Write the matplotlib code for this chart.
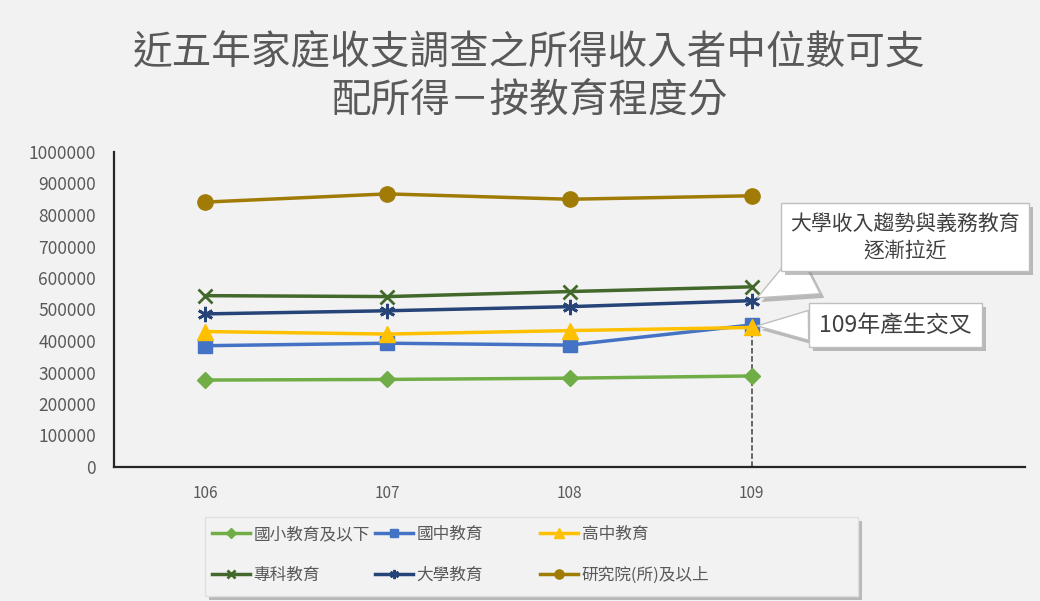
import matplotlib
matplotlib.use("Agg")
import matplotlib.pyplot as plt
import matplotlib.patheffects as pe
from matplotlib.patches import Rectangle

plt.rcParams['font.family'] = ['Noto Sans CJK TC', 'DejaVu Sans']

years = [106, 107, 108, 109]
elementary = [276000, 278000, 282000, 289000]
junior_high = [385000, 393000, 387000, 451000]
senior_high = [430000, 422000, 433000, 443000]
college = [544000, 541000, 557000, 572000]
university = [486000, 496000, 509000, 528000]
graduate = [841000, 867000, 850000, 861000]

series = [
    ("國小教育及以下", elementary, "#70ad47", "D", 8, 1),
    ("國中教育", junior_high, "#4472c4", "s", 10, 1),
    ("高中教育", senior_high, "#ffc000", "^", 11, 1),
    ("專科教育", college, "#43682b", "x", 10, 2),
    ("大學教育", university, "#264478", (6, 2, 0), 11, 2),
    ("研究院(所)及以上", graduate, "#a07c06", "o", 11, 1),
]

title = "近五年家庭收支調查之所得收入者中位數可支\n配所得－按教育程度分"
note_trend = "大學收入趨勢與義務教育\n逐漸拉近"
note_cross = "109年產生交叉"

bg = "#f2f2f2"
gray = "#595959"

fig = plt.figure(figsize=(10.4, 6.01), dpi=100, facecolor=bg)
ax = fig.add_axes([114 / 1040, 1 - 467 / 601, (1025 - 114) / 1040, (467 - 152) / 601])
ax.set_facecolor(bg)

handles = {}
for name, vals, color, marker, ms, mew in series:
    (h,) = ax.plot(years, vals, color=color, lw=2.5, marker=marker, ms=ms,
                   mew=mew, mec=color, mfc=color, label=name)
    handles[name] = h

ax.vlines(109, 0, 445000, colors="#404040", linestyles="--", lw=1.1, zorder=1)

ax.set_xlim(105.5, 110.5)
ax.set_ylim(0, 1000000)
ax.set_xticks(years)
ax.set_xticklabels([str(y) for y in years], fontsize=11, color=gray)
ax.set_yticks(range(0, 1000001, 100000))
ax.set_yticklabels([str(v) for v in range(0, 1000001, 100000)], fontsize=12.5, color=gray)
ax.tick_params(axis="both", length=0)
ax.tick_params(axis="y", pad=13)
ax.tick_params(axis="x", pad=13)
for s in ["top", "right"]:
    ax.spines[s].set_visible(False)
for s in ["left", "bottom"]:
    ax.spines[s].set_linewidth(1.6)
    ax.spines[s].set_color("#262626")

fig.text(0.509, 1 - 77 / 601, title, ha="center", va="center", fontsize=28.5,
         color=gray, linespacing=1.22)

shadow = [pe.withSimplePatchShadow(offset=(3, -3), shadow_rgbFace="#808080", alpha=0.5)]

ann1 = ax.annotate(note_trend, xy=(109.03, 537000), xytext=(109.84, 730000),
                   ha="center", va="center", fontsize=15, color="#404040",
                   linespacing=1.3,
                   bbox=dict(boxstyle="square,pad=0.45", fc="white", ec="#bfbfbf", lw=1),
                   arrowprops=dict(arrowstyle="wedge,tail_width=2.4", fc="white",
                                   ec="#bfbfbf", lw=1, shrinkA=0, shrinkB=0,
                                   relpos=(0.25, 0.2)))
ann2 = ax.annotate(note_cross, xy=(109.03, 448000), xytext=(109.79, 451000),
                   ha="center", va="center", fontsize=16.5, color="#404040",
                   bbox=dict(boxstyle="square,pad=0.45", fc="white", ec="#bfbfbf", lw=1),
                   arrowprops=dict(arrowstyle="wedge,tail_width=1.3", fc="white",
                                   ec="#bfbfbf", lw=1, shrinkA=0, shrinkB=0,
                                   relpos=(0.2, 0.5)))
for ann in (ann1, ann2):
    ann.get_bbox_patch().set_path_effects(shadow)
    ann.arrow_patch.set_path_effects(shadow)

# legend frame
frame = Rectangle((205 / 1040, 1 - 596 / 601), (858 - 205) / 1040, (596 - 517) / 601,
                  transform=fig.transFigure, fc=bg, ec="#e0e0e0", lw=1, zorder=0)
frame.set_path_effects(shadow)
fig.add_artist(frame)

columns = [
    (212, ["國小教育及以下", "專科教育"]),
    (375, ["國中教育", "大學教育"]),
    (540, ["高中教育", "研究院(所)及以上"]),
]
for x_px, names in columns:
    leg = fig.legend(handles=[handles[n] for n in names], labels=names,
                     loc="upper left", bbox_to_anchor=(x_px / 1040, 1 - 526 / 601),
                     frameon=False, fontsize=12, handlelength=2.3, handletextpad=0.2,
                     labelspacing=1.42, borderpad=0, borderaxespad=0, markerscale=0.6)
    for t in leg.get_texts():
        t.set_color(gray)

fig.savefig("out.png", dpi=100, facecolor=bg)
